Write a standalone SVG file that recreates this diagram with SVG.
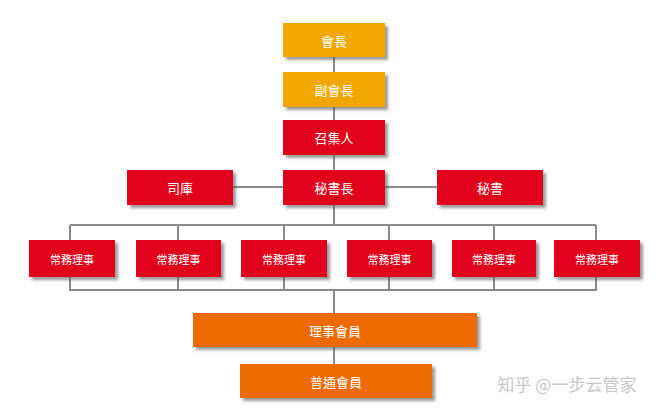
<svg xmlns="http://www.w3.org/2000/svg" width="665" height="413" viewBox="0 0 665 413">
<defs>
<filter id="sh" x="-10%" y="-20%" width="130%" height="150%"><feDropShadow dx="3" dy="3" stdDeviation="1.5" flood-color="#555" flood-opacity="0.6"/></filter>
</defs>
<style>
.l{stroke:#8a8a8a;stroke-width:2;fill:none}
.y{fill:#F2A600;filter:url(#sh)}
.r{fill:#E0001B;filter:url(#sh)}
.o{fill:#EC6A00;filter:url(#sh)}
text{font-family:"Noto Sans CJK TC","Noto Sans CJK SC",sans-serif;fill:#fff;text-anchor:middle;dominant-baseline:central}
.t{font-size:13px}
.s{font-size:11px}
</style>
<rect width="665" height="413" fill="#fff"/>
<g id="connectors">
<path class="l" d="M334 57V72M334 107V120M334 155V170M233 187H283M385 187H437M334 205V225M70 225H596M70 225V240M178 225V240M284 225V240M389 225V240M494 225V240M596 225V240M70 277V290H596V277M178 277V290M284 277V290M389 277V290M494 277V290M334 290V313M334 347V364"/>
</g>
<g id="n1"><rect class="y" x="283" y="23" width="102" height="34"/><text class="t" x="334" y="40">會長</text></g>
<g id="n2"><rect class="y" x="283" y="72" width="102" height="35"/><text class="t" x="334" y="89.5">副會長</text></g>
<g id="n3"><rect class="r" x="283" y="120" width="102" height="35"/><text class="t" x="334" y="137.5">召集人</text></g>
<g id="n4"><rect class="r" x="283" y="170" width="102" height="35"/><text class="t" x="334" y="187.5">秘書長</text></g>
<g id="n5"><rect class="r" x="127" y="170" width="106" height="35"/><text class="t" x="180" y="187.5">司庫</text></g>
<g id="n6"><rect class="r" x="437" y="170" width="106" height="35"/><text class="t" x="490" y="187.5">秘書</text></g>
<g id="m1"><rect class="r" x="29" y="240" width="86" height="37"/><text class="s" x="72" y="258.5">常務理事</text></g>
<g id="m2"><rect class="r" x="136" y="240" width="85" height="37"/><text class="s" x="178.5" y="258.5">常務理事</text></g>
<g id="m3"><rect class="r" x="241" y="240" width="86" height="37"/><text class="s" x="284" y="258.5">常務理事</text></g>
<g id="m4"><rect class="r" x="347" y="240" width="85" height="37"/><text class="s" x="389.5" y="258.5">常務理事</text></g>
<g id="m5"><rect class="r" x="452" y="240" width="84" height="37"/><text class="s" x="494" y="258.5">常務理事</text></g>
<g id="m6"><rect class="r" x="554" y="240" width="86" height="37"/><text class="s" x="597" y="258.5">常務理事</text></g>
<g id="n7"><rect class="o" x="193" y="313" width="284" height="34"/><text class="t" x="335" y="330">理事會員</text></g>
<g id="n8"><rect class="o" x="240" y="364" width="192" height="34"/><text class="t" x="336" y="381">普通會員</text></g>
<text x="567" y="383" style="font-size:17px;fill:#c8c8c8">知乎 @一步云管家</text>
</svg>
